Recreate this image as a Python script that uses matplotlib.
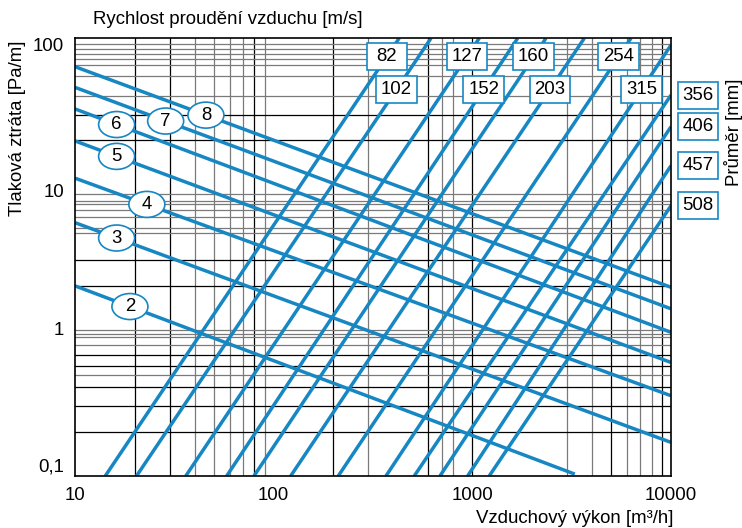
import matplotlib
matplotlib.use('Agg')
import matplotlib.pyplot as plt
import matplotlib.transforms as mtransforms
from matplotlib.patches import Rectangle, Ellipse
from matplotlib.ticker import NullLocator, FixedLocator, FixedFormatter
import numpy as np

# diameter lines [mm]: start (bottom) and end points
diam_labels = ['82', '102', '127', '152', '160', '203', '254', '315', '356', '406', '457', '508']
diam_q0 = [14.2, 20.4, 36.1, 58.0, 79.6, 121.8, 211.4, 367.5, 510, 687, 947, 1216]
diam_r0 = [0.1, 0.1, 0.1, 0.1, 0.1, 0.1, 0.1, 0.1, 0.1, 0.1, 0.1, 0.1]
diam_q1 = [428, 619, 1083, 1690, 2346, 3658, 6284, 10000, 10000, 10000, 10000, 10000]
diam_r1 = [100, 100, 100, 100, 100, 100, 100, 89.9, 40.8, 24.8, 13.4, 7.12]

# air velocity lines [m/s]
vel_labels = ['2', '3', '4', '5', '6', '7', '8']
vel_q0 = [10, 10, 10, 10, 10, 10, 10]
vel_r0 = [2.01, 5.45, 11.0, 19.8, 32.8, 46.1, 63.9]
vel_q1 = [3280, 10000, 10000, 10000, 10000, 10000, 10000]
vel_r1 = [0.103, 0.170, 0.355, 0.60, 0.966, 1.40, 1.965]

# where the velocity bubbles sit along each line (flow value)
vel_label_q = [18.9, 16.2, 23.0, 16.2, 16.2, 28.6, 45.6]
# pressure value of the diameter boxes inside the plot (two rows)
diam_label_r = [74.8, 44.6, 74.8, 44.6, 74.8, 44.6, 74.8, 44.6]

# grid as drawn in the original (not a full log grid)
xgrid = [20, 30, 40, 50, 60, 70, 80, 90, 200, 300, 600, 700, 800, 1000,
         3000, 4000, 5000, 6000, 7000, 8000, 9000]
xgrid_dark = [20, 30, 80, 200, 600, 1000, 5000, 9000]
ygrid = [92, 85, 78, 72, 66, 55, 40, 30, 20,
         8.5, 7.7, 7.3, 6.7, 6.0, 5.0, 4.6, 3.0, 2.0,
         1.0, 0.94, 0.9, 0.79, 0.68, 0.57, 0.49, 0.41, 0.3, 0.2]
ygrid_dark = [30, 20, 3.0, 2.0, 0.68, 0.57, 0.41, 0.3, 0.2]

blue = '#1787c3'

plt.rcParams['font.family'] = ['Liberation Sans', 'DejaVu Sans']
plt.rcParams['font.size'] = 13.4

fig = plt.figure(figsize=(7.42, 5.28), dpi=100)
ax = fig.add_axes([75 / 742, 1 - 476 / 528, 596 / 742, 437.7 / 528])
ax.set_xscale('log')
ax.set_yscale('log')
ax.set_xlim(10, 10000)
ax.set_ylim(0.1, 100)

for v in xgrid:
    ax.axvline(v, color='black' if v in xgrid_dark else '#7a7a7a', lw=0.9, zorder=1)
for v in ygrid:
    ax.axhline(v, color='black' if v in ygrid_dark else '#7a7a7a', lw=0.9, zorder=1)


def along(q0, r0, q1, r1, q=None, r=None):
    # point on a straight log-log line
    lq0, lr0, lq1, lr1 = np.log10([q0, r0, q1, r1])
    k = (lr1 - lr0) / (lq1 - lq0)
    if q is not None:
        return q, 10 ** (lr0 + k * (np.log10(q) - lq0))
    return 10 ** (lq0 + (np.log10(r) - lr0) / k), r


for i in range(len(diam_labels)):
    ax.plot([diam_q0[i], diam_q1[i]], [diam_r0[i], diam_r1[i]], color=blue, lw=2.5,
            solid_capstyle='butt', zorder=2)
for i in range(len(vel_labels)):
    ax.plot([vel_q0[i], vel_q1[i]], [vel_r0[i], vel_r1[i]], color=blue, lw=2.5,
            solid_capstyle='butt', zorder=2)

# velocity bubbles
for i, lab in enumerate(vel_labels):
    q, r = along(vel_q0[i], vel_r0[i], vel_q1[i], vel_r1[i], q=vel_label_q[i])
    tr = fig.dpi_scale_trans + mtransforms.ScaledTranslation(q, r, ax.transData)
    ax.add_patch(Ellipse((0, 0), 0.36, 0.26, transform=tr, fc='white', ec=blue,
                         lw=1.2, zorder=3))
    ax.text(q, r, lab, ha='center', va='center', zorder=4)

# diameter boxes
bw, bh = 0.405, 0.27
for i, lab in enumerate(diam_labels):
    if i < len(diam_label_r):
        q, r = along(diam_q0[i], diam_r0[i], diam_q1[i], diam_r1[i], r=diam_label_r[i])
        base = ax.transData
        pos = (q, r)
    else:
        base = mtransforms.blended_transform_factory(ax.transAxes, ax.transData)
        pos = (1.0455, diam_r1[i])
    tr = fig.dpi_scale_trans + mtransforms.ScaledTranslation(pos[0], pos[1], base)
    ax.add_patch(Rectangle((-bw / 2, -bh / 2), bw, bh, transform=tr, fc='white',
                           ec=blue, lw=1.2, zorder=3, clip_on=False))
    ax.text(pos[0], pos[1], lab, transform=base, ha='center', va='center',
            zorder=4, clip_on=False)

ax.xaxis.set_major_locator(FixedLocator([10, 100, 1000, 10000]))
ax.xaxis.set_major_formatter(FixedFormatter(['10', '100', '1000', '10000']))
ax.yaxis.set_major_locator(FixedLocator([0.1, 1, 10, 100]))
ax.yaxis.set_major_formatter(FixedFormatter(['0,1', '1', '10', '100']))
ax.xaxis.set_minor_locator(NullLocator())
ax.yaxis.set_minor_locator(NullLocator())
ax.tick_params(which='both', length=0, pad=8, labelsize=13.4)
for t, va in zip(ax.get_yticklabels(), ['bottom', 'center', 'top', 'top']):
    t.set_va(va)

for s in ax.spines.values():
    s.set_linewidth(1.2)
    s.set_zorder(5)

ax.set_xlabel('Vzduchový výkon [m³/h]', loc='right', va='center')
ax.xaxis.set_label_coords(1.005, -0.098)
ax.set_ylabel('Tlaková ztráta [Pa/m]', loc='top', va='center')
ax.yaxis.set_label_coords(-0.096, 0.996)
ax.text(0.031, 1.042, 'Rychlost proudění vzduchu [m/s]', transform=ax.transAxes,
        ha='left', va='center')
ax.text(1.105, 0.786, 'Průměr [mm]', transform=ax.transAxes, rotation=90,
        ha='center', va='center')

fig.savefig('out.png', dpi=100)
